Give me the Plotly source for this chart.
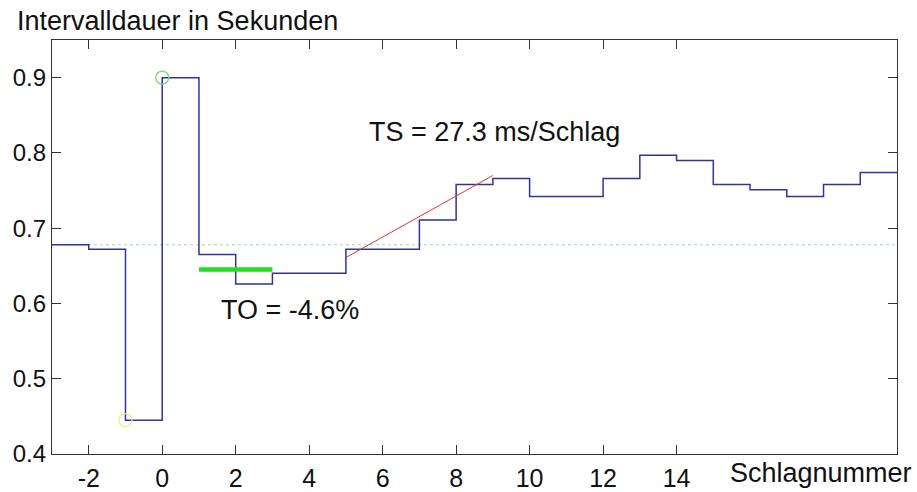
import plotly.graph_objects as go

# Beat numbers (start of each interval) and interval durations in seconds
beats = [-3, -2, -1, 0, 1, 2, 3, 4, 5, 6, 7, 8, 9, 10, 11, 12, 13, 14, 15, 16, 17, 18, 19, 20]
intervals = [0.678, 0.672, 0.445, 0.900, 0.665, 0.626, 0.640, 0.640, 0.672, 0.672,
             0.711, 0.758, 0.766, 0.742, 0.742, 0.766, 0.797, 0.790, 0.758, 0.751,
             0.742, 0.758, 0.774, 0.774]

baseline_x = [-3, 20]
baseline_y = [0.678, 0.678]

to_x = [1, 3]
to_y = [0.645, 0.645]

ts_x = [5, 9]
ts_y = [0.661, 0.770]

green_circle = ([0], [0.900])
yellow_circle = ([-1], [0.445])

x_ticks = [-2, 0, 2, 4, 6, 8, 10, 12, 14]
y_ticks = [0.4, 0.5, 0.6, 0.7, 0.8, 0.9]

FONT = "Liberation Sans, Arial, sans-serif"

fig = go.Figure()
fig.add_trace(go.Scatter(x=baseline_x, y=baseline_y, mode="lines",
                         line=dict(color="#9ee09e", width=1, dash="dot"), hoverinfo="skip"))
fig.add_trace(go.Scatter(x=beats, y=intervals, mode="lines", line_shape="hv",
                         line=dict(color="#32329a", width=1.5)))
fig.add_trace(go.Scatter(x=to_x, y=to_y, mode="lines",
                         line=dict(color="#22dd22", width=4.5)))
fig.add_trace(go.Scatter(x=ts_x, y=ts_y, mode="lines",
                         line=dict(color="#d0393c", width=1)))
fig.add_trace(go.Scatter(x=green_circle[0], y=green_circle[1], mode="markers",
                         marker=dict(symbol="circle-open", size=13, color="#7fd27f",
                                     line=dict(width=1.3))))
fig.add_trace(go.Scatter(x=yellow_circle[0], y=yellow_circle[1], mode="markers",
                         marker=dict(symbol="circle-open", size=13, color="#eeee88",
                                     line=dict(width=1.3))))

fig.add_annotation(x=5.58, y=0.828, xref="x", yref="y", text="TS = 27.3 ms/Schlag",
                   showarrow=False, xanchor="left", yanchor="middle",
                   font=dict(family=FONT, size=27, color="#111"))
fig.add_annotation(x=1.55, y=0.591, xref="x", yref="y", text="TO = -4.6%",
                   showarrow=False, xanchor="left", yanchor="middle",
                   font=dict(family=FONT, size=27, color="#111"))
fig.add_annotation(x=-0.0435, y=1.045, xref="paper", yref="paper",
                   text="Intervalldauer in Sekunden", showarrow=False,
                   xanchor="left", yanchor="middle",
                   font=dict(family=FONT, size=27, color="#111"))
fig.add_annotation(x=1.0205, y=-0.0459, xref="paper", yref="paper",
                   text="Schlagnummer", showarrow=False,
                   xanchor="right", yanchor="middle",
                   font=dict(family=FONT, size=27, color="#111"))

axis_common = dict(showgrid=False, zeroline=False, showline=True, linecolor="#333",
                   linewidth=1.2, mirror="ticks", ticks="inside", ticklen=9,
                   tickcolor="#333", tickwidth=1.2, automargin=False)

fig.update_xaxes(range=[-3, 20], tickvals=x_ticks, ticktext=[str(v) for v in x_ticks],
                 tickfont=dict(family=FONT, size=25, color="#111"),
                 ticklabelstandoff=2, **axis_common)
fig.update_yaxes(range=[0.4, 0.95], tickvals=y_ticks, ticktext=[f"{v:.1f}" for v in y_ticks],
                 tickfont=dict(family=FONT, size=24, color="#111"), **axis_common)

fig.update_layout(width=917, height=492, showlegend=False,
                  margin=dict(l=52, r=20, t=40, b=38),
                  paper_bgcolor="white", plot_bgcolor="white")

fig.write_html("out.html")
